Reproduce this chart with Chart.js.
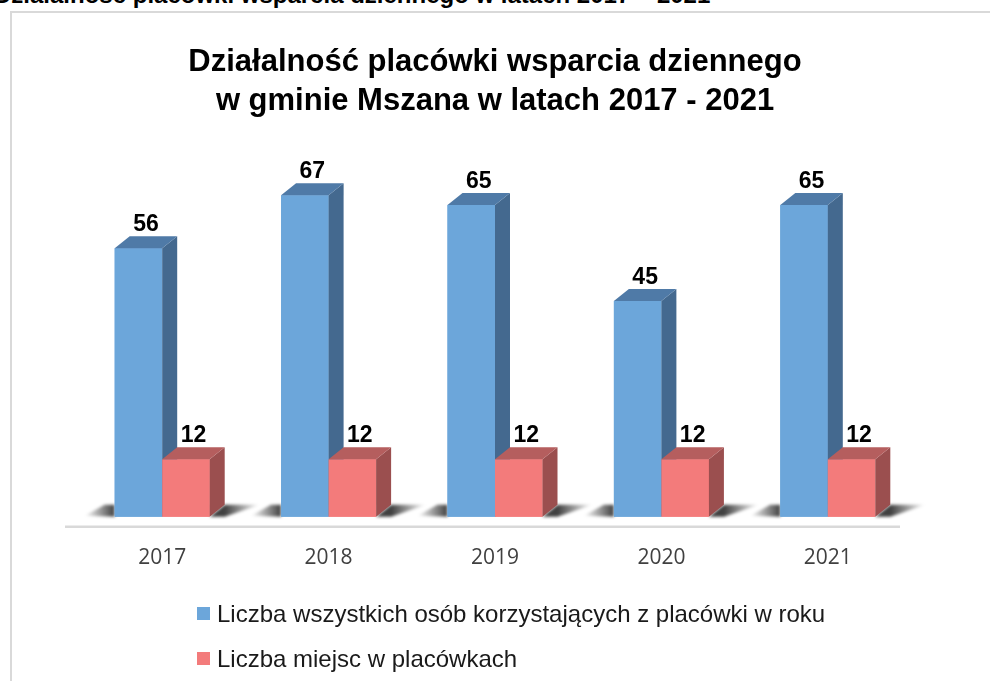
<!DOCTYPE html>
<html>
<head>
<meta charset="utf-8">
<script src="https://cdn.jsdelivr.net/npm/chart.js@4"></script>
<style>
  html, body { margin: 0; padding: 0; background: #fff; overflow: hidden; }
  .page { position: relative; width: 990px; height: 681px; }
  .cut-title {
    position: absolute; left: -6px; top: -19px; white-space: nowrap;
    font: bold 24px "Liberation Sans", Arial, sans-serif; color: #000;
  }
  .frame {
    position: absolute; left: 10px; top: 11px; width: 1000px; height: 700px;
    border: 2px solid #d9d9d9; box-sizing: border-box;
  }
  #chart { position: absolute; left: 0; top: 0; }
  .legend {
    position: absolute; left: 197px; top: 591px;
    font: 24px "Liberation Sans", Arial, sans-serif; color: #1a1a1a;
  }
  .legend div { height: 45px; display: flex; align-items: center; white-space: nowrap; }
  .legend span { display: inline-block; width: 13px; height: 13px; margin-right: 7px; }
</style>
</head>
<body>
<div class="page">
  <div class="cut-title">Działalność placówki wsparcia dziennego w latach 2017 – 2021</div>
  <div class="frame"></div>
  <canvas id="chart" width="990" height="681"></canvas>
  <div class="legend" id="legend"></div>
</div>
<script>
// Dane wykresu
const years = ['2017', '2018', '2019', '2020', '2021'];
const allPersons = [56, 67, 65, 45, 65];
const places = [12, 12, 12, 12, 12];
const seriesNames = [
  'Liczba wszystkich osób korzystających z placówki w roku',
  'Liczba miejsc w placówkach'
];
const titleLines = [
  'Działalność placówki wsparcia dziennego',
  'w gminie Mszana w latach 2017 - 2021'
];

// kolory: przód, bok, góra
const faces = [
  { front: '#6ca6da', side: '#44698f', top: '#4f7aa7' },
  { front: '#f37b7b', side: '#9b4f4f', top: '#b55e5e' }
];
const dx = 15, dy = 12;

function barBox(bar) {
  const p = bar.getProps(['x', 'y', 'base', 'width'], true);
  return { l: p.x - p.width / 2, r: p.x + p.width / 2, x: p.x, y: p.y, base: p.base };
}

function poly(ctx, pts, fill) {
  ctx.beginPath();
  ctx.moveTo(pts[0][0], pts[0][1]);
  for (let k = 1; k < pts.length; k++) ctx.lineTo(pts[k][0], pts[k][1]);
  ctx.closePath();
  ctx.fillStyle = fill;
  ctx.fill();
}

// słupki 3D + cień + linia podłogi
const bars3d = {
  id: 'bars3d',
  beforeDatasetsDraw(chart) {
    const ctx = chart.ctx;
    const area = chart.chartArea;
    const m0 = chart.getDatasetMeta(0), m1 = chart.getDatasetMeta(1);
    ctx.save();
    ctx.strokeStyle = '#d9d9d9';
    ctx.lineWidth = 2.5;
    ctx.beginPath();
    ctx.moveTo(area.left - 14, area.bottom + 10);
    ctx.lineTo(area.right - 11, area.bottom + 10);
    ctx.stroke();
    ctx.filter = 'blur(1.5px)';
    for (let j = 0; j < years.length; j++) {
      const a = barBox(m0.data[j]), b = barBox(m1.data[j]);
      const base = a.base;
      let g = ctx.createLinearGradient(a.l - 30, 0, a.l, 0);
      g.addColorStop(0, 'rgba(0,0,0,0)');
      g.addColorStop(1, 'rgba(0,0,0,0.75)');
      poly(ctx, [[a.l - 30, base - 1], [a.l - 10, base - dy], [a.l, base - dy], [a.l, base]], g);
      g = ctx.createLinearGradient(b.r + dx, 0, b.r + dx + 35, 0);
      g.addColorStop(0, 'rgba(0,0,0,0.75)');
      g.addColorStop(1, 'rgba(0,0,0,0)');
      poly(ctx, [[b.r, base], [b.r + dx, base - dy], [b.r + dx + 35, base - dy], [b.r + 15, base]], g);
    }
    ctx.restore();
  },
  afterDatasetsDraw(chart) {
    const ctx = chart.ctx;
    const metas = chart.data.datasets.map((d, i) => chart.getDatasetMeta(i));
    ctx.save();
    for (let j = 0; j < years.length; j++) {
      metas.forEach((meta, i) => {
        const c = barBox(meta.data[j]);
        const f = faces[i];
        ctx.fillStyle = f.front;
        ctx.fillRect(c.l, c.y, c.r - c.l, c.base - c.y);
        poly(ctx, [[c.r, c.y], [c.r + dx, c.y - dy], [c.r + dx, c.base - dy], [c.r, c.base]], f.side);
        poly(ctx, [[c.l, c.y], [c.l + dx, c.y - dy], [c.r + dx, c.y - dy], [c.r, c.y]], f.top);
      });
    }
    // etykiety wartości
    ctx.fillStyle = '#000';
    ctx.font = 'bold 23px "Liberation Sans", Arial, sans-serif';
    ctx.textAlign = 'center';
    ctx.textBaseline = 'alphabetic';
    metas.forEach((meta, i) => {
      meta.data.forEach((bar, j) => {
        const c = barBox(bar);
        ctx.fillText(String(chart.data.datasets[i].data[j]), c.x + dx / 2, c.y - dy - 5);
      });
    });
    ctx.restore();
  }
};

const chart = new Chart(document.getElementById('chart'), {
  type: 'bar',
  data: {
    labels: years,
    datasets: [
      { label: seriesNames[0], data: allPersons, backgroundColor: faces[0].front },
      { label: seriesNames[1], data: places, backgroundColor: faces[1].front }
    ]
  },
  options: {
    responsive: false,
    animation: false,
    categoryPercentage: 0.571,
    barPercentage: 1.0,
    layout: { padding: { left: 79, right: 79, top: 0, bottom: 81 } },
    plugins: {
      legend: { display: false },
      tooltip: { enabled: false },
      title: {
        display: true,
        text: titleLines,
        color: '#000',
        font: { family: '"Liberation Sans", Arial, sans-serif', size: 31, weight: 'bold', lineHeight: 1.258 },
        padding: { top: 42.5, bottom: 12.5 }
      }
    },
    scales: {
      x: {
        grid: { display: false, drawTicks: false },
        border: { display: false },
        ticks: {
          color: '#404040',
          padding: 29,
          font: { family: '"Open Sans", sans-serif', size: 21 }
        }
      },
      y: { display: false, min: 0, max: 80 }
    }
  },
  plugins: [bars3d]
});

// legenda
const legend = document.getElementById('legend');
chart.data.datasets.forEach((ds) => {
  const row = document.createElement('div');
  const box = document.createElement('span');
  box.style.background = ds.backgroundColor;
  row.appendChild(box);
  row.appendChild(document.createTextNode(ds.label));
  legend.appendChild(row);
});
</script>
</body>
</html>
